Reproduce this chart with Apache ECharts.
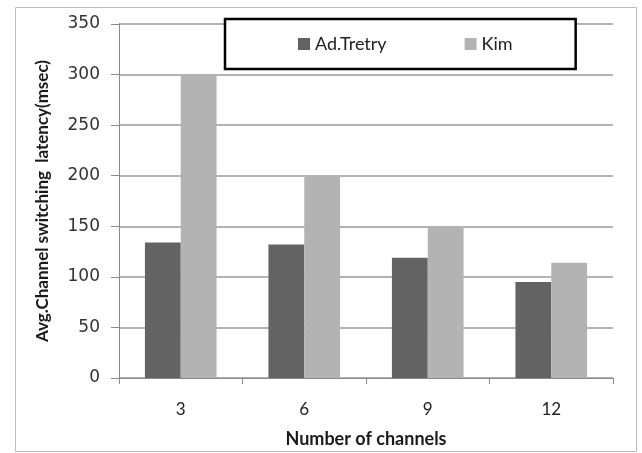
<!DOCTYPE html>
<html>
<head>
<meta charset="utf-8">
<script src="https://cdn.jsdelivr.net/npm/echarts@6/dist/echarts.min.js"></script>
<style>
  html, body { margin: 0; padding: 0; background: #fff; }
  #chart { width: 642px; height: 453px; }
</style>
</head>
<body>
<div id="chart"></div>
<script>
// Channel counts on the x axis
const channels = ['3', '6', '9', '12'];
// Average channel switching latency (msec) per scheme
const adTretry = [134, 132, 119, 95];
const kim = [300, 200, 150, 114];
const seriesNames = ['Ad.Tretry', 'Kim'];

const font = 'Lato, "Open Sans", sans-serif';

const chart = echarts.init(document.getElementById('chart'), null, { renderer: 'canvas' });

chart.setOption({
  animation: false,
  backgroundColor: '#fff',
  graphic: [{
    type: 'rect',
    shape: { x: 15.5, y: 7.5, width: 621, height: 444 },
    style: { fill: 'none', stroke: '#bdbdbd', lineWidth: 1 },
    z: -1
  }],
  grid: { left: 119, right: 29, top: 24, bottom: 72 },
  legend: {
    data: seriesNames,
    left: 225,
    top: 19,
    orient: 'horizontal',
    icon: 'rect',
    itemWidth: 12,
    itemHeight: 12,
    itemGap: 78,
    padding: [16, 63, 16, 73],
    borderColor: '#000',
    borderWidth: 2.5,
    backgroundColor: '#fff',
    textStyle: { fontFamily: font, fontSize: 18, color: '#222' }
  },
  xAxis: {
    type: 'category',
    data: channels,
    name: 'Number of channels',
    nameLocation: 'middle',
    nameGap: 52,
    nameTextStyle: { fontFamily: font, fontSize: 18, fontWeight: 'bold', color: '#1a1a1a' },
    axisLine: { lineStyle: { color: '#8a8a8a', width: 1 } },
    axisTick: { show: true, length: 6, lineStyle: { color: '#8a8a8a' } },
    axisLabel: { fontFamily: font, fontSize: 17, color: '#222', margin: 23 }
  },
  yAxis: {
    type: 'value',
    min: 0,
    max: 350,
    interval: 50,
    name: 'Avg.Channel switching  latency(msec)',
    nameLocation: 'middle',
    nameGap: 68,
    nameTextStyle: { fontFamily: font, fontSize: 17, fontWeight: 'bold', color: '#1a1a1a' },
    axisLine: { show: true, lineStyle: { color: '#8a8a8a', width: 1 } },
    axisTick: { show: true, length: 8, lineStyle: { color: '#8a8a8a' } },
    axisLabel: { fontFamily: '"DejaVu Sans", sans-serif', fontSize: 17, color: '#333', margin: 19 },
    splitLine: { lineStyle: { color: '#9a9a9a', width: 1.5 } }
  },
  series: [
    {
      name: seriesNames[0],
      type: 'bar',
      data: adTretry,
      barGap: '0%',
      barCategoryGap: '42%',
      itemStyle: { color: '#636363' }
    },
    {
      name: seriesNames[1],
      type: 'bar',
      data: kim,
      barGap: '0%',
      barCategoryGap: '42%',
      itemStyle: { color: '#b3b3b3' }
    }
  ]
});
</script>
</body>
</html>
